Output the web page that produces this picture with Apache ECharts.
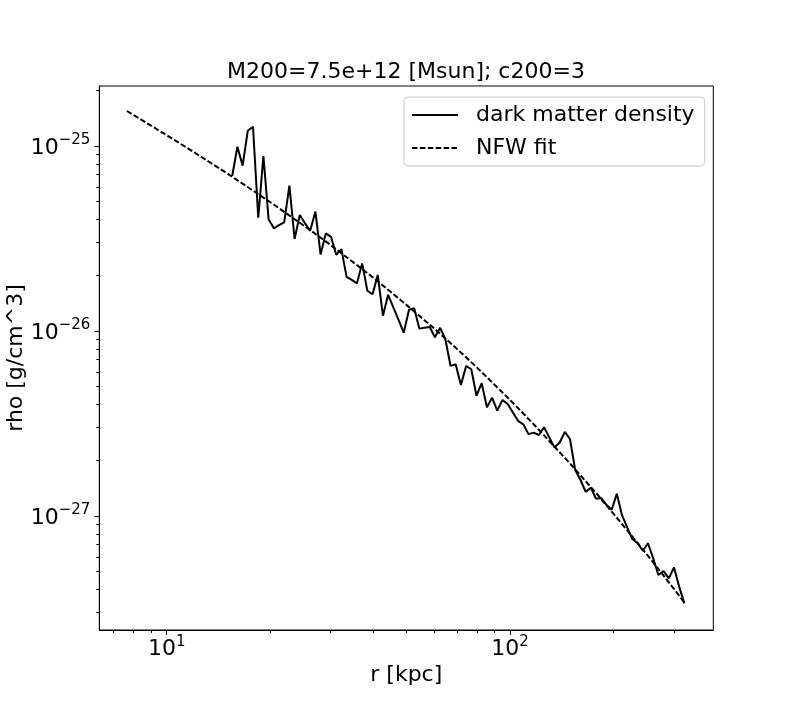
<!DOCTYPE html>
<html>
<head>
<meta charset="utf-8">
<script src="https://cdn.jsdelivr.net/npm/echarts@6/dist/echarts.min.js"></script>
<style>
  html, body { margin: 0; padding: 0; background: #fff; }
  #chart { width: 792px; height: 720px; }
</style>
</head>
<body>
<div id="chart"></div>
<script>
// radial bins (kpc) and measured dark matter density (g/cm^3)
var radius = [15.52, 16.07, 16.64, 17.23, 17.84, 18.48, 19.13, 19.81, 20.51, 21.24,
  21.99, 22.77, 23.58, 24.42, 25.28, 26.18, 27.11, 28.07, 29.07, 30.10,
  31.16, 32.27, 33.41, 34.60, 35.82, 37.09, 38.41, 39.77, 41.18, 42.64,
  44.15, 45.72, 47.34, 49.02, 50.76, 52.56, 54.42, 56.35, 58.35, 60.42,
  62.56, 64.78, 67.08, 69.46, 71.92, 74.47, 77.11, 79.84, 82.68, 85.61,
  88.64, 91.79, 95.04, 98.41, 101.9, 105.5, 109.3, 113.1, 117.1, 121.3,
  125.6, 130.1, 134.7, 139.4, 144.4, 149.5, 154.8, 160.3, 166.0, 171.9,
  178.0, 184.3, 190.8, 197.6, 204.6, 211.8, 219.3, 227.1, 235.2, 243.5,
  252.1, 261.1, 270.3, 279.9, 289.9, 300.1, 310.8, 321.8];
var density = [6.88e-26, 9.91e-26, 7.83e-26, 1.21e-25, 1.27e-25, 4.10e-26, 8.83e-26, 4.02e-26, 3.59e-26, 3.73e-26,
  3.87e-26, 6.10e-26, 3.15e-26, 4.24e-26, 3.82e-26, 3.48e-26, 4.42e-26, 2.59e-26, 3.37e-26, 3.23e-26,
  2.58e-26, 2.77e-26, 1.96e-26, 1.89e-26, 1.81e-26, 2.32e-26, 1.65e-26, 1.58e-26, 2.01e-26, 1.21e-26,
  1.57e-26, 1.34e-26, 1.15e-26, 9.79e-27, 1.30e-26, 1.33e-26, 1.03e-26, 1.04e-26, 1.05e-26, 9.25e-27,
  1.04e-26, 9.05e-27, 6.49e-27, 6.59e-27, 5.11e-27, 6.47e-27, 6.21e-27, 4.47e-27, 5.22e-27, 3.87e-27,
  4.36e-27, 3.71e-27, 4.24e-27, 4.03e-27, 3.63e-27, 3.27e-27, 3.13e-27, 2.77e-27, 2.82e-27, 2.74e-27,
  3.02e-27, 2.66e-27, 2.35e-27, 2.49e-27, 2.85e-27, 2.60e-27, 1.77e-27, 1.57e-27, 1.35e-27, 1.42e-27,
  1.24e-27, 1.25e-27, 1.15e-27, 1.08e-27, 1.32e-27, 1.01e-27, 8.69e-28, 7.51e-28, 7.12e-28, 6.49e-28,
  7.12e-28, 5.91e-28, 4.80e-28, 5.04e-28, 4.60e-28, 5.28e-28, 4.15e-28, 3.37e-28];

// NFW fit curve
var nfwRadius = [7.66, 10, 12, 15, 20, 25, 30, 40, 50, 60, 70, 80, 100, 120, 150, 180, 220, 260, 300, 321.8];
var nfwDensity = [1.546e-25, 1.144e-25, 9.27e-26, 7.11e-26, 4.98e-26, 3.73e-26, 2.92e-26, 1.94e-26, 1.38e-26, 1.036e-26,
  8.01e-27, 6.36e-27, 4.24e-27, 2.99e-27, 1.91e-27, 1.30e-27, 8.32e-28, 5.67e-28, 4.04e-28, 3.41e-28];

// ticks
var xMajorTicks = [10, 100];
var xMinorTicks = [7, 8, 9, 20, 30, 40, 50, 60, 70, 80, 90, 200, 300];
var yMajorTicks = [1e-27, 1e-26, 1e-25];
var yMinorTicks = [3e-28, 4e-28, 5e-28, 6e-28, 7e-28, 8e-28, 9e-28,
  2e-27, 3e-27, 4e-27, 5e-27, 6e-27, 7e-27, 8e-27, 9e-27,
  2e-26, 3e-26, 4e-26, 5e-26, 6e-26, 7e-26, 8e-26, 9e-26,
  2e-25];

var FONT = 'DejaVu Sans';

// echarts' log scale rounds tiny extents to 0, so the y axis works in units of 1e-28 g/cm^3
var Y_EXP = -28;
function toYUnit(v) { return v / Math.pow(10, Y_EXP); }

function zip(xs, ys) {
  return xs.map(function (x, i) { return [x, toYUnit(ys[i])]; });
}

function supLabel(e) {
  return '{b|10}{s|' + (e < 0 ? '\u2212' + (-e) : e) + '}';
}

var powRich = {
  b: { fontFamily: FONT, fontSize: 22, lineHeight: 26, verticalAlign: 'bottom', color: '#000' },
  s: { fontFamily: FONT, fontSize: 15, lineHeight: 16, verticalAlign: 'top', color: '#000' }
};

var xRange = { min: 6.365, max: 390.7 };
var yRange = { min: 2.42e-28, max: 2.11e-25 };

var myChart = echarts.init(document.getElementById('chart'));
var option = {
  animation: false,
  backgroundColor: '#fff',
  title: {
    text: 'M200=7.5e+12 [Msun]; c200=3',
    left: 406,
    top: 61,
    padding: 0,
    textAlign: 'center',
    textStyle: { fontFamily: FONT, fontSize: 22, fontWeight: 'normal', color: '#000' }
  },
  legend: {
    orient: 'vertical',
    left: 404,
    top: 97,
    padding: [7, 10, 7, 7],
    itemGap: 11,
    itemWidth: 46,
    itemHeight: 14,
    backgroundColor: '#fff',
    borderColor: '#cccccc',
    borderWidth: 1,
    borderRadius: 4,
    itemStyle: { opacity: 0 },
    textStyle: { fontFamily: FONT, fontSize: 22, lineHeight: 22, color: '#000', padding: [0, 0, 0, 13] },
    data: ['dark matter density', 'NFW fit']
  },
  grid: {
    left: 99.3,
    right: 78.7,
    top: 86,
    bottom: 90,
    show: true,
    borderColor: '#000',
    borderWidth: 1,
    outerBoundsMode: 'none'
  },
  xAxis: [
    {
      type: 'log',
      min: xRange.min,
      max: xRange.max,
      position: 'bottom',
      name: 'r [kpc]',
      nameLocation: 'middle',
      nameGap: 34,
      nameMoveOverlap: false,
      nameTextStyle: { fontFamily: FONT, fontSize: 22, color: '#000' },
      axisLine: { show: true, onZero: false, lineStyle: { color: '#000', width: 1 } },
      axisTick: { show: true, length: 5, customValues: xMajorTicks, lineStyle: { color: '#000', width: 1 } },
      axisLabel: {
        margin: 4.5,
        customValues: xMajorTicks,
        formatter: function (v) { return supLabel(Math.round(Math.log10(v))); },
        rich: powRich
      },
      splitLine: { show: false }
    },
    {
      type: 'log',
      min: xRange.min,
      max: xRange.max,
      position: 'bottom',
      axisLine: { show: false, onZero: false },
      axisTick: { show: true, length: 3, customValues: xMinorTicks, lineStyle: { color: '#000', width: 1 } },
      axisLabel: { show: false },
      splitLine: { show: false }
    }
  ],
  yAxis: [
    {
      type: 'log',
      min: toYUnit(yRange.min),
      max: toYUnit(yRange.max),
      position: 'left',
      name: 'rho [g/cm^3]',
      nameLocation: 'middle',
      nameGap: 72,
      nameMoveOverlap: false,
      nameTextStyle: { fontFamily: FONT, fontSize: 22, color: '#000' },
      axisLine: { show: true, onZero: false, lineStyle: { color: '#000', width: 1 } },
      axisTick: { show: true, length: 5, customValues: yMajorTicks.map(toYUnit), lineStyle: { color: '#000', width: 1 } },
      axisLabel: {
        margin: 9,
        customValues: yMajorTicks.map(toYUnit),
        formatter: function (v) { return supLabel(Math.round(Math.log10(v)) + Y_EXP); },
        rich: powRich
      },
      splitLine: { show: false }
    },
    {
      type: 'log',
      min: toYUnit(yRange.min),
      max: toYUnit(yRange.max),
      position: 'left',
      axisLine: { show: false, onZero: false },
      axisTick: { show: true, length: 3, customValues: yMinorTicks.map(toYUnit), lineStyle: { color: '#000', width: 1 } },
      axisLabel: { show: false },
      splitLine: { show: false }
    }
  ],
  series: [
    {
      name: 'dark matter density',
      type: 'line',
      xAxisIndex: 0,
      yAxisIndex: 0,
      symbol: 'none',
      data: zip(radius, density),
      lineStyle: { color: '#000', width: 2 },
      itemStyle: { color: '#000' }
    },
    {
      name: 'NFW fit',
      type: 'line',
      xAxisIndex: 0,
      yAxisIndex: 0,
      symbol: 'none',
      data: zip(nfwRadius, nfwDensity),
      lineStyle: { color: '#000', width: 2, type: [5.5, 2.4] },
      itemStyle: { color: '#000' }
    }
  ]
};
myChart.setOption(option);
</script>
</body>
</html>
